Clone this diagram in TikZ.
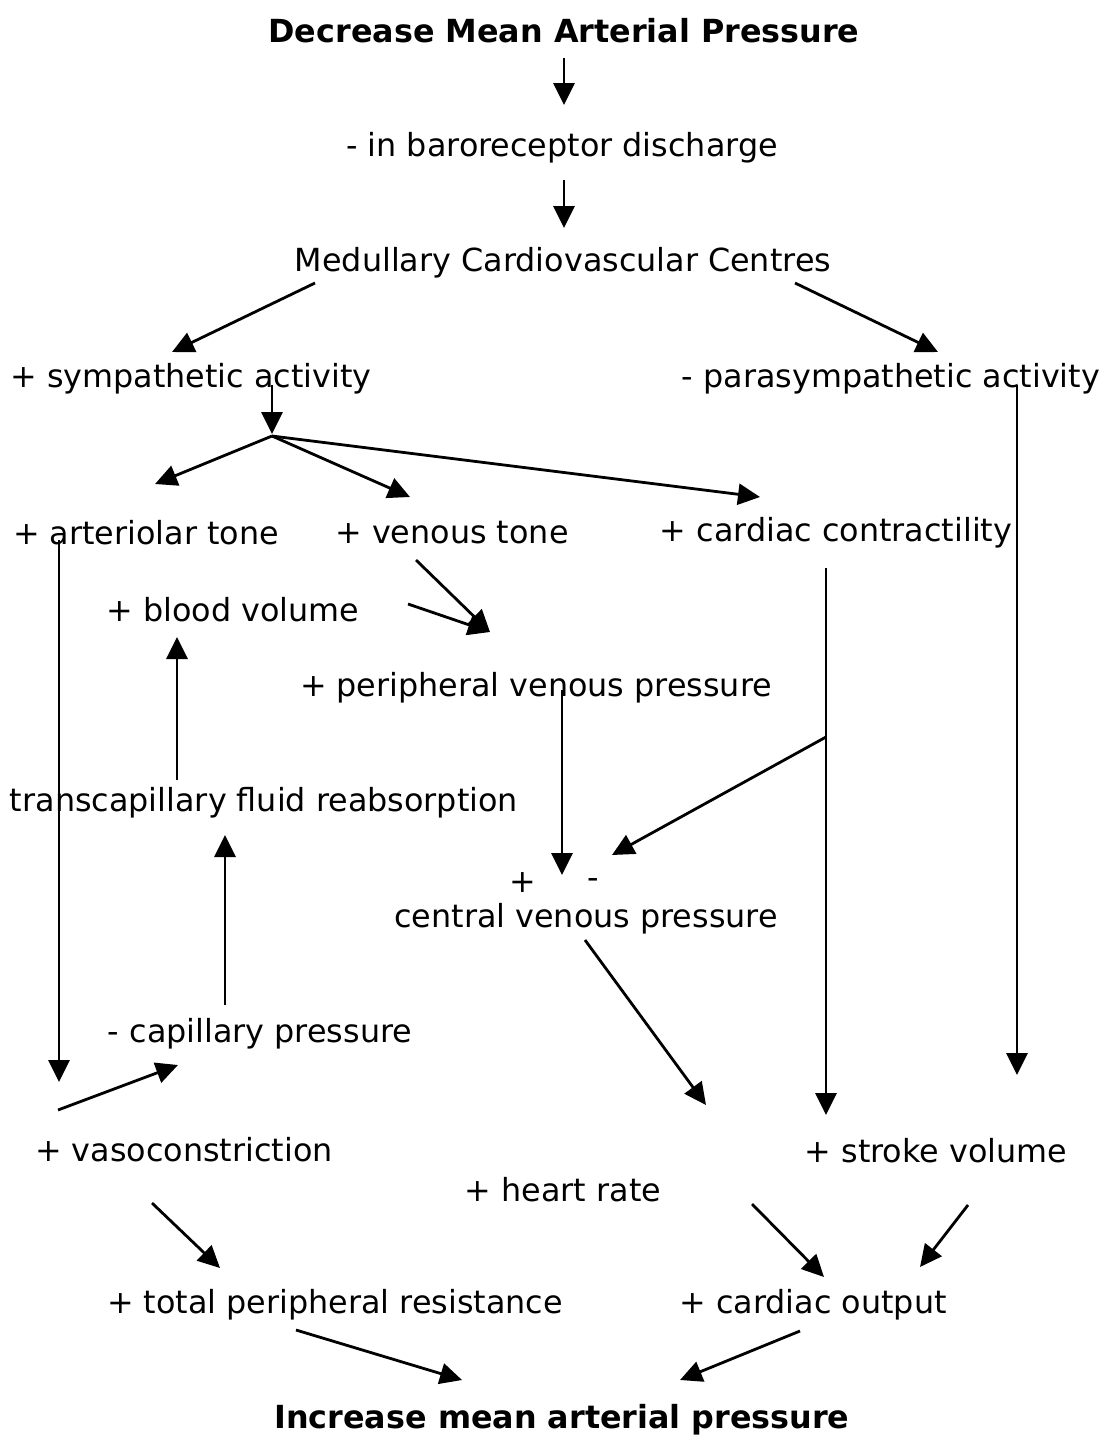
\documentclass[tikz,border=0pt]{standalone}
\usepackage{fontspec}
\setmainfont{DejaVu Sans}
\usetikzlibrary{arrows.meta}

\begin{document}
\begin{tikzpicture}[x=1pt,y=-1pt,>={Triangle[length=22pt,width=21pt]},
  lbl/.style={inner sep=0pt,yshift=-3pt,font=\fontsize{31.8}{38}\selectfont},
  head/.style={lbl,font=\fontsize{31.8}{38}\selectfont\bfseries},
  arrow/.style={->,line width=2.8pt}]
\useasboundingbox (0,0) rectangle (1106,1436);
% text
\node[head] (dec) at (564,28) {Decrease Mean Arterial Pressure};
\node[lbl] (baro) at (562,145) {- in baroreceptor discharge};
\node[lbl] (med) at (563,260) {Medullary Cardiovascular Centres};
\node[lbl] (symp) at (191,376) {+ sympathetic activity};
\node[lbl] (para) at (891,376) {- parasympathetic activity};
\node[lbl] (art) at (146,530) {+ arteriolar tone};
\node[lbl] (ven) at (452,530) {+ venous tone};
\node[lbl] (contr) at (836,530) {+ cardiac contractility};
\node[lbl] (blood) at (233,607) {+ blood volume};
\node[lbl] (pvp) at (536,685) {+ peripheral venous pressure};
\node[lbl] (trans) at (264,800) {transcapillary fluid reabsorption};
\node[lbl] (plus) at (523,880) {+};
\node[lbl] (minus) at (593,880) {-};
\node[lbl] (cvp) at (586,916) {central venous pressure};
\node[lbl] (cap) at (260,1031) {- capillary pressure};
\node[lbl] (vaso) at (184,1147) {+ vasoconstriction};
\node[lbl] (sv) at (936,1148) {+ stroke volume};
\node[lbl] (hr) at (563,1187) {+ heart rate};
\node[lbl] (tpr) at (335,1302) {+ total peripheral resistance};
\node[lbl] (co) at (813,1302) {+ cardiac output};
\node[head] (inc) at (562,1417) {Increase mean arterial pressure};
% connector ends
\coordinate (dec-out) at (564,58);   \coordinate (baro-in) at (564,105);
\coordinate (baro-out) at (564,180); \coordinate (med-in) at (564,228);
\coordinate (med-l) at (315,283);    \coordinate (symp-in) at (172,352);
\coordinate (med-r) at (795,283);    \coordinate (para-in) at (938,352);
\coordinate (symp-out) at (272,385); \coordinate (fork-in) at (272,434);
\coordinate (fork) at (272,436);
\coordinate (art-in) at (155,484);   \coordinate (ven-in) at (410,497);
\coordinate (contr-in) at (760,497);
\coordinate (para-out) at (1017,385); \coordinate (sv-in2) at (1017,1075);
\coordinate (art-out) at (59,540);   \coordinate (vaso-in) at (59,1082);
\coordinate (ven-out) at (416,560);  \coordinate (blood-out) at (408,604);
\coordinate (pvp-in) at (490,632);
\coordinate (pvp-out) at (562,690);  \coordinate (cvp-in) at (562,875);
\coordinate (contr-out) at (826,568); \coordinate (sv-in) at (826,1115);
\coordinate (split) at (826,737);    \coordinate (cvp-in2) at (612,855);
\coordinate (trans-out) at (177,780); \coordinate (blood-in) at (177,637);
\coordinate (cap-out) at (225,1005); \coordinate (trans-in) at (225,835);
\coordinate (cvp-out) at (585,940);  \coordinate (hr-in) at (706,1105);
\coordinate (vaso-out) at (58,1110); \coordinate (cap-in) at (178,1065);
\coordinate (vaso-out2) at (152,1203); \coordinate (tpr-in) at (220,1268);
\coordinate (hr-out) at (752,1204);  \coordinate (co-in) at (824,1277);
\coordinate (sv-out) at (968,1205);  \coordinate (co-in2) at (920,1267);
\coordinate (tpr-out) at (296,1330); \coordinate (inc-l) at (462,1380);
\coordinate (co-out) at (800,1331);  \coordinate (inc-r) at (680,1380);
% connectors
\draw[arrow] (dec-out) -- (baro-in);
\draw[arrow] (baro-out) -- (med-in);
\draw[arrow] (med-l) -- (symp-in);
\draw[arrow] (med-r) -- (para-in);
\draw[arrow] (symp-out) -- (fork-in);
\draw[arrow] (fork) -- (art-in);
\draw[arrow] (fork) -- (ven-in);
\draw[arrow] (fork) -- (contr-in);
\draw[arrow] (para-out) -- (sv-in2);
\draw[arrow] (art-out) -- (vaso-in);
\draw[arrow] (ven-out) -- (pvp-in);
\draw[arrow] (blood-out) -- (pvp-in);
\draw[arrow] (pvp-out) -- (cvp-in);
\draw[arrow] (contr-out) -- (sv-in);
\draw[arrow] (split) -- (cvp-in2);
\draw[arrow] (trans-out) -- (blood-in);
\draw[arrow] (cap-out) -- (trans-in);
\draw[arrow] (cvp-out) -- (hr-in);
\draw[arrow] (vaso-out) -- (cap-in);
\draw[arrow] (vaso-out2) -- (tpr-in);
\draw[arrow] (hr-out) -- (co-in);
\draw[arrow] (sv-out) -- (co-in2);
\draw[arrow] (tpr-out) -- (inc-l);
\draw[arrow] (co-out) -- (inc-r);
\end{tikzpicture}
\end{document}
